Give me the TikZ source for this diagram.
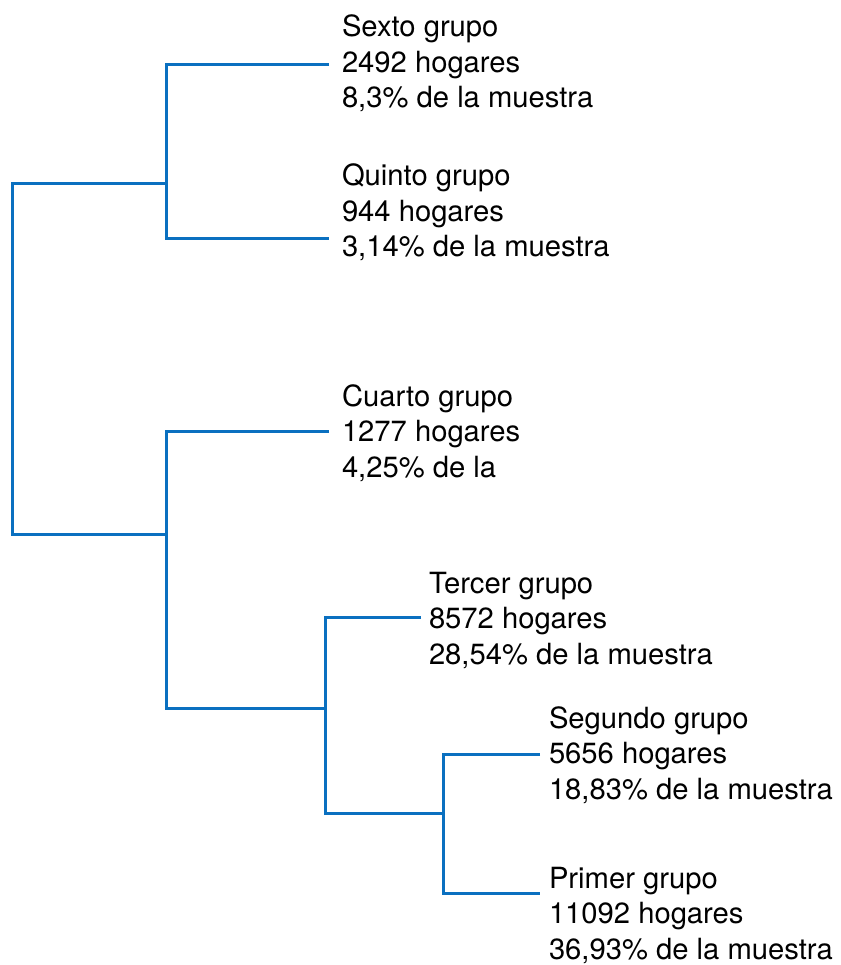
\documentclass[tikz,border=0pt]{standalone}
\usepackage{fontspec}
\setmainfont{TeX Gyre Heros}
\definecolor{ramablue}{RGB}{10,112,192}
\begin{document}
\begin{tikzpicture}[x=1pt,y=-1pt]
\tikzset{ rama/.style={draw=ramablue, line width=3pt},
  grupo/.style={anchor=base west, align=left, inner sep=0pt, outer sep=0pt,
    font=\fontsize{29.2}{35.5}\selectfont}, }
\useasboundingbox (0,0) rectangle (840,965);
%\draw [lightgray, dashed](0,0) grid [step=50] (840,965);

\node [grupo] (G6) at (342,108) {Sexto grupo\\2492 hogares\\8,3\% de la muestra};
\node [grupo] (G5) at (342,257) {Quinto grupo\\944 hogares\\3,14\% de la muestra};
\node [grupo] (G4) at (342,477) {Cuarto grupo\\1277 hogares\\4,25\% de la};
\node [grupo] (G3) at (429,664) {Tercer grupo\\8572 hogares\\28,54\% de la muestra};
\node [grupo] (G2) at (549,799) {Segundo grupo\\5656 hogares\\18,83\% de la muestra};
\node [grupo] (G1) at (549,959) {Primer grupo\\11092 hogares\\36,93\% de la muestra};

\coordinate (L6) at (329,65);
\coordinate (L5) at (329,239);
\coordinate (L4) at (329,431);
\coordinate (L3) at (421,617);
\coordinate (L2) at (540,754);
\coordinate (L1) at (540,893);

\coordinate (R)   at (12,360);
\coordinate (J65) at (166,184);
\coordinate (J4)  at (166,534);
\coordinate (J3)  at (325,708);
\coordinate (J21) at (443,813);

\draw [rama] (L6) -| (J65) |- (L5);
\draw [rama] (J65) -| (R) |- (J4);
\draw [rama] (L4) -| (J4) |- (J3);
\draw [rama] (L3) -| (J3) |- (J21);
\draw [rama] (L2) -| (J21) |- (L1);

\end{tikzpicture}
\end{document}
